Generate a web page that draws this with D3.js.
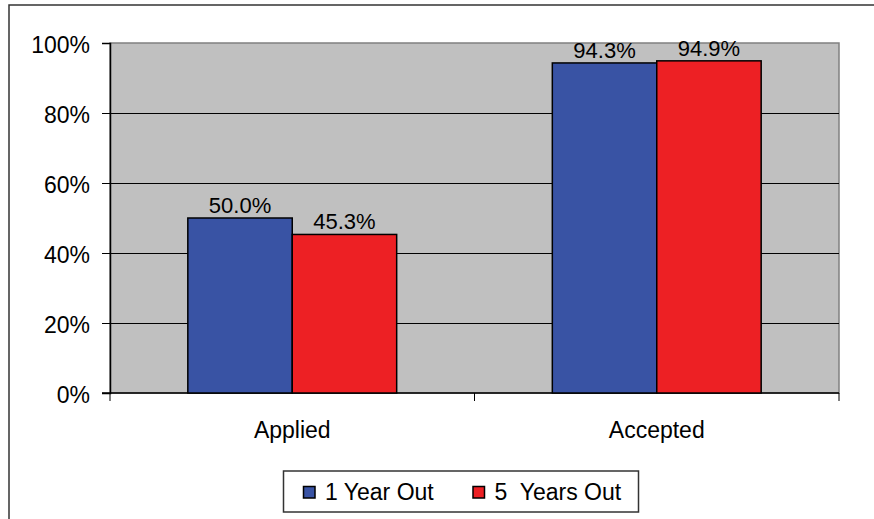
<!DOCTYPE html>
<html>
<head>
<meta charset="utf-8">
<script src="https://cdn.jsdelivr.net/npm/d3@7"></script>
<style>
  html, body { margin: 0; padding: 0; background: #fff; }
  svg { display: block; font-family: Arial, "Liberation Sans", sans-serif; }
</style>
</head>
<body>
<div id="chart"></div>
<script>
const categories = ['Applied', 'Accepted'];
const seriesNames = ['1 Year Out', '5  Years Out'];
const oneYearOut = [50.0, 94.3];
const fiveYearsOut = [45.3, 94.9];
const yTicks = [0, 20, 40, 60, 80, 100];

const width = 874, height = 519;
const plot = { left: 110, top: 43, right: 839, bottom: 393 };
const colors = ['#3953a4', '#ed2024'];
const fontSize = '23px';

const svg = d3.select('#chart').append('svg')
  .attr('width', width)
  .attr('height', height);

// -- outer chart border (runs off the right/bottom edge)
svg.append('path')
  .attr('d', `M9,${height + 2}V5H${width + 2}`)
  .attr('fill', 'none')
  .attr('stroke', '#333')
  .attr('stroke-width', 1.5);

const x0 = d3.scaleBand()
  .domain(categories)
  .range([plot.left, plot.right])
  .paddingInner(0.427)
  .paddingOuter(0.2135);

const x1 = d3.scaleBand()
  .domain(d3.range(seriesNames.length))
  .range([0, x0.bandwidth()]);

const y = d3.scaleLinear()
  .domain([0, 100])
  .range([plot.bottom, plot.top]);

// -- plot background
svg.append('rect')
  .attr('x', plot.left)
  .attr('y', plot.top)
  .attr('width', plot.right - plot.left)
  .attr('height', plot.bottom - plot.top)
  .attr('fill', '#c0c0c0')
  .attr('stroke', '#808080')
  .attr('stroke-width', 1.5);

// -- gridlines
svg.append('g')
  .selectAll('line')
  .data(yTicks.filter(t => t > 0 && t < 100))
  .join('line')
  .attr('x1', plot.left)
  .attr('x2', plot.right)
  .attr('y1', d => Math.round(y(d)) + 0.5)
  .attr('y2', d => Math.round(y(d)) + 0.5)
  .attr('stroke', '#000')
  .attr('stroke-width', 1);

// -- y axis
const yAxis = svg.append('g')
  .attr('transform', `translate(${plot.left},0)`)
  .call(d3.axisLeft(y).tickValues(yTicks).tickSize(8).tickPadding(12).tickFormat(d => d + '%'));
yAxis.select('.domain').attr('stroke', '#000').attr('stroke-width', 1.5);
yAxis.selectAll('.tick line').attr('stroke', '#000');
yAxis.selectAll('.tick text')
  .attr('fill', '#000')
  .attr('dy', '0.42em')
  .style('font-size', fontSize)
  .style('font-family', 'Arial, "Liberation Sans", sans-serif');

// -- x axis
svg.append('line')
  .attr('x1', plot.left - 8)
  .attr('x2', plot.right)
  .attr('y1', plot.bottom)
  .attr('y2', plot.bottom)
  .attr('stroke', '#000')
  .attr('stroke-width', 1.5);

const step = x0.step();
const sepXs = [plot.left, plot.left + step, plot.right];
svg.append('g')
  .selectAll('line')
  .data(sepXs)
  .join('line')
  .attr('x1', d => d)
  .attr('x2', d => d)
  .attr('y1', plot.bottom)
  .attr('y2', plot.bottom + 8)
  .attr('stroke', '#000')
  .attr('stroke-width', 1);

svg.append('g')
  .selectAll('text')
  .data(categories)
  .join('text')
  .attr('x', d => x0(d) + x0.bandwidth() / 2)
  .attr('y', plot.bottom + 45)
  .attr('text-anchor', 'middle')
  .style('font-size', fontSize)
  .text(d => d);

// -- bars
const rows = categories.map((c, i) => ({ category: c, values: [oneYearOut[i], fiveYearsOut[i]] }));

const groups = svg.append('g')
  .selectAll('g')
  .data(rows)
  .join('g')
  .attr('transform', d => `translate(${x0(d.category)},0)`);

groups.selectAll('rect')
  .data(d => d.values.map((v, s) => ({ v, s })))
  .join('rect')
  .attr('x', d => x1(d.s))
  .attr('y', d => y(d.v))
  .attr('width', x1.bandwidth())
  .attr('height', d => plot.bottom - y(d.v))
  .attr('fill', d => colors[d.s])
  .attr('stroke', '#000')
  .attr('stroke-width', 1.5);

groups.selectAll('text')
  .data(d => d.values.map((v, s) => ({ v, s })))
  .join('text')
  .attr('x', d => x1(d.s) + x1.bandwidth() / 2)
  .attr('y', d => y(d.v) - 5)
  .attr('text-anchor', 'middle')
  .style('font-size', '22px')
  .text(d => d.v.toFixed(1) + '%');

// -- legend
const legend = svg.append('g').attr('transform', 'translate(283.5,471)');
legend.append('rect')
  .attr('width', 355)
  .attr('height', 41)
  .attr('fill', '#fff')
  .attr('stroke', '#333')
  .attr('stroke-width', 1.5);

const legendItems = legend.selectAll('g')
  .data(seriesNames)
  .join('g')
  .attr('transform', (d, i) => `translate(${[20, 189.5][i]},0)`);

legendItems.append('rect')
  .attr('y', 15.5)
  .attr('width', 11.5)
  .attr('height', 11.5)
  .attr('fill', (d, i) => colors[i])
  .attr('stroke', '#000')
  .attr('stroke-width', 1.5);

legendItems.append('text')
  .attr('x', 21.5)
  .attr('y', 28.5)
  .style('font-size', fontSize)
  .style('white-space', 'pre')
  .text(d => d);
</script>
</body>
</html>
